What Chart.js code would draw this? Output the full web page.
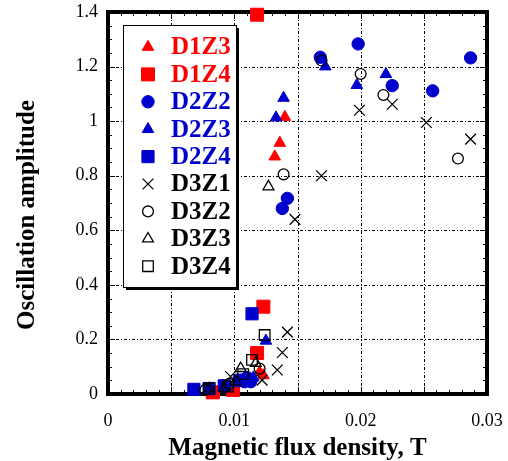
<!DOCTYPE html>
<html>
<head>
<meta charset="utf-8">
<script src="https://cdn.jsdelivr.net/npm/chart.js@4"></script>
<style>
  html, body { margin: 0; padding: 0; background: #fff; }
  #wrap { width: 508px; height: 461px; }
</style>
</head>
<body>
<div id="wrap"><canvas id="amp" width="508" height="461"></canvas></div>
<script>
// Oscillation amplitude vs magnetic flux density, [B (T), amplitude]
const d1z3 = [[0.0132, 0.87], [0.0136, 0.92], [0.0140, 1.015], [0.0120, 0.08], [0.0123, 0.068], [0.0103, 0.05], [0.0091, 0.03], [0.0080, 0.015]];
const d1z4 = [[0.0118, 1.39], [0.0123, 0.32], [0.0118, 0.15], [0.0099, 0.015], [0.0083, 0.006]];
const d2z2 = [[0.0168, 1.234], [0.0198, 1.283], [0.0225, 1.13], [0.0257, 1.111], [0.0287, 1.232], [0.0142, 0.717], [0.0138, 0.68], [0.0105, 0.05], [0.0108, 0.045], [0.0113, 0.045], [0.0110, 0.06]];
const d2z3 = [[0.0139, 1.085], [0.0133, 1.013], [0.0172, 1.20], [0.0197, 1.132], [0.0220, 1.172], [0.0125, 0.195], [0.0115, 0.06], [0.0102, 0.04]];
const d2z4 = [[0.0114, 0.294], [0.0068, 0.017], [0.0080, 0.02], [0.0092, 0.03], [0.0104, 0.05]];
const d3z1 = [[0.0148, 0.64], [0.0169, 0.80], [0.0199, 1.04], [0.0225, 1.062], [0.0252, 0.995], [0.0287, 0.934], [0.0142, 0.227], [0.0138, 0.152], [0.0134, 0.088], [0.0122, 0.051], [0.0097, 0.064]];
const d3z2 = [[0.0139, 0.805], [0.0169, 1.222], [0.0200, 1.173], [0.0218, 1.096], [0.0277, 0.863], [0.0120, 0.093], [0.0096, 0.037], [0.0077, 0.015]];
const d3z3 = [[0.0127, 0.76], [0.0117, 0.113], [0.0105, 0.094], [0.0101, 0.045], [0.0092, 0.021], [0.0080, 0.02]];
const d3z4 = [[0.0124, 0.216], [0.0114, 0.125], [0.0107, 0.073], [0.0095, 0.027], [0.0080, 0.02]];

const xTicks = [0, 0.005, 0.01, 0.015, 0.02, 0.025, 0.03];
const xTickLabels = ['0', '', '0.01', '', '0.02', '', '0.03'];
const yTicks = [0, 0.2, 0.4, 0.6, 0.8, 1.0, 1.2, 1.4];
const yTickLabels = ['0', '0.2', '0.4', '0.6', '0.8', '1', '1.2', '1.4'];

const RED = '#ff0000', BLUE = '#0000cc', BLACK = '#000000';
const SERIF = "'Liberation Serif', 'Times New Roman', serif";

const series = [
  { label: 'D1Z3', data: d1z3, color: RED,   style: 'triangle', r: 6.7, filled: true },
  { label: 'D1Z4', data: d1z4, color: RED,   style: 'rect',     r: 9.2, filled: true },
  { label: 'D2Z2', data: d2z2, color: BLUE,  style: 'circle',   r: 6.2, filled: true },
  { label: 'D2Z3', data: d2z3, color: BLUE,  style: 'triangle', r: 6.7, filled: true },
  { label: 'D2Z4', data: d2z4, color: BLUE,  style: 'rect',     r: 8.6, filled: true },
  { label: 'D3Z1', data: d3z1, color: BLACK, style: 'crossRot', r: 7.6, filled: false },
  { label: 'D3Z2', data: d3z2, color: BLACK, style: 'circle',   r: 5.4, filled: false },
  { label: 'D3Z3', data: d3z3, color: BLACK, style: 'triangle', r: 6.3, filled: false },
  { label: 'D3Z4', data: d3z4, color: BLACK, style: 'rect',     r: 7.5, filled: false }
];

// dash-dot grid, frame, inward ticks on all four sides
const framePlugin = {
  id: 'frame',
  beforeDatasetsDraw(chart) {
    const { ctx, chartArea: a, scales: { x, y } } = chart;
    ctx.save();
    ctx.strokeStyle = '#000';
    ctx.lineWidth = 1;
    ctx.setLineDash([3, 2, 1, 2]);
    ctx.beginPath();
    xTicks.forEach(v => {
      const px = Math.round(x.getPixelForValue(v)) + 0.5;
      ctx.moveTo(px, a.bottom); ctx.lineTo(px, a.top);
    });
    yTicks.forEach(v => {
      const py = Math.round(y.getPixelForValue(v)) + 0.5;
      ctx.moveTo(a.left, py); ctx.lineTo(a.right, py);
    });
    ctx.stroke();
    ctx.setLineDash([]);

    ctx.beginPath();
    for (let i = 1; i < 30; i++) {
      const px = Math.round(x.getPixelForValue(i / 1000)) + 0.5;
      const len = i % 5 === 0 ? 7 : 4;
      ctx.moveTo(px, a.bottom); ctx.lineTo(px, a.bottom - len);
      ctx.moveTo(px, a.top); ctx.lineTo(px, a.top + len);
    }
    for (let i = 1; i < 28; i++) {
      const py = Math.round(y.getPixelForValue(i * 0.05)) + 0.5;
      const len = i % 4 === 0 ? 7 : 4;
      ctx.moveTo(a.left, py); ctx.lineTo(a.left + len, py);
      ctx.moveTo(a.right, py); ctx.lineTo(a.right - len, py);
    }
    ctx.stroke();
    ctx.lineWidth = 4;
    ctx.strokeRect(a.left, a.top, a.right - a.left, a.bottom - a.top);
    ctx.restore();
  },
  afterDraw(chart) {
    const { ctx } = chart;
    // y axis title
    ctx.save();
    ctx.translate(28, 215);
    ctx.rotate(-Math.PI / 2);
    ctx.font = 'bold 25px ' + SERIF;
    ctx.fillStyle = '#000';
    ctx.textAlign = 'center';
    ctx.textBaseline = 'middle';
    ctx.fillText('Oscillation amplitude', 0, 0);
    ctx.restore();

    // legend box with drop shadow
    const bx = 123, by = 25, bw = 113, bh = 262;
    ctx.save();
    ctx.fillStyle = '#000';
    ctx.fillRect(bx + 3, by + 3, bw, bh);
    ctx.fillStyle = '#fff';
    ctx.fillRect(bx, by, bw, bh);
    ctx.lineWidth = 1;
    ctx.strokeStyle = '#000';
    ctx.strokeRect(bx + 0.5, by + 0.5, bw, bh);
    ctx.font = 'bold 25px ' + SERIF;
    ctx.textBaseline = 'middle';
    ctx.textAlign = 'left';
    series.forEach((s, i) => {
      const ly = 47 + i * 27.4;
      ctx.fillStyle = s.filled ? s.color : 'rgba(0,0,0,0)';
      ctx.strokeStyle = s.color;
      ctx.lineWidth = s.filled ? 1 : 1.3;
      Chart.helpers.drawPoint(ctx, { pointStyle: s.style, radius: s.r, rotation: 0, borderWidth: ctx.lineWidth }, 148, ly);
      ctx.fillStyle = s.color;
      ctx.fillText(s.label, 171, ly + 1);
    });
    ctx.restore();
  }
};

new Chart(document.getElementById('amp'), {
  type: 'scatter',
  data: {
    datasets: series.map((s, i) => ({
      label: s.label,
      data: s.data.map(([x, y]) => ({ x, y })),
      pointStyle: s.style,
      pointRadius: s.r,
      pointHoverRadius: s.r,
      backgroundColor: s.filled ? s.color : 'rgba(0,0,0,0)',
      borderColor: s.color,
      borderWidth: s.filled ? 1 : 1.3,
      order: series.length - i,
      clip: false
    }))
  },
  options: {
    responsive: false,
    animation: false,
    layout: { padding: { left: 0, right: 21, top: 12, bottom: 0 } },
    plugins: { legend: { display: false }, tooltip: { enabled: false } },
    scales: {
      x: {
        type: 'linear',
        min: 0, max: 0.03,
        afterBuildTicks: s => { s.ticks = xTicks.map(v => ({ value: v })); },
        afterFit: s => { s.height = 67; s.paddingLeft = 0; s.paddingRight = 0; },
        grid: { display: false, drawTicks: false },
        border: { display: false },
        ticks: {
          autoSkip: false, maxRotation: 0, padding: 16, color: '#000',
          font: { family: SERIF, size: 18 },
          callback: (v, i) => xTickLabels[i]
        },
        title: {
          display: true, text: 'Magnetic flux density, T', color: '#000',
          font: { family: SERIF, size: 25, weight: 'bold' },
          padding: { top: 0, bottom: -3 }
        }
      },
      y: {
        type: 'linear',
        min: 0, max: 1.4,
        afterBuildTicks: s => { s.ticks = yTicks.map(v => ({ value: v })); },
        afterFit: s => { s.width = 108; s.paddingTop = 0; s.paddingBottom = 0; },
        grid: { display: false, drawTicks: false },
        border: { display: false },
        ticks: {
          autoSkip: false, padding: 10, color: '#000',
          font: { family: SERIF, size: 18 },
          callback: (v, i) => yTickLabels[i]
        }
      }
    }
  },
  plugins: [framePlugin]
});
</script>
</body>
</html>
